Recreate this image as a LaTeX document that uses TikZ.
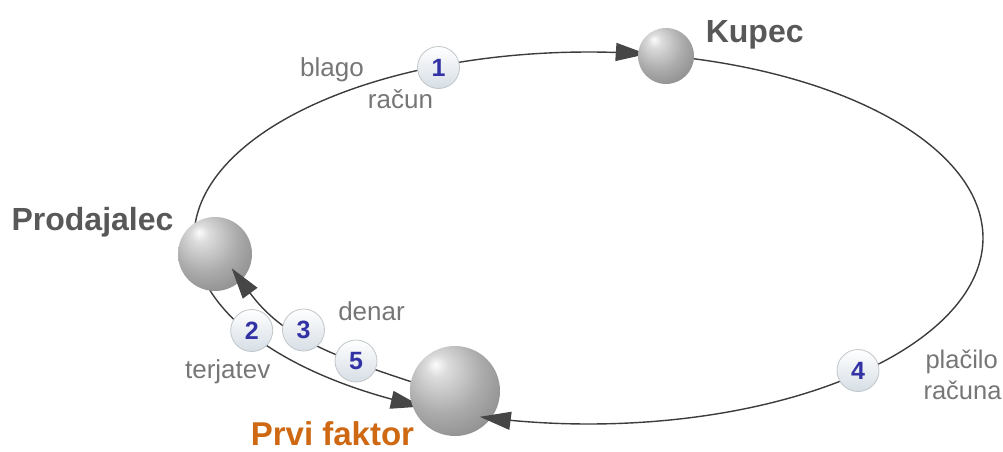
\documentclass[tikz,border=0pt]{standalone}
\usepackage{fontspec}
\setmainfont{Liberation Sans}
\usetikzlibrary{arrows.meta}
\definecolor{linec}{RGB}{60,60,60}
\definecolor{arrc}{RGB}{70,70,70}
\definecolor{labc}{RGB}{118,118,118}
\definecolor{titc}{RGB}{88,88,88}
\definecolor{orc}{RGB}{206,104,18}
\definecolor{digc}{RGB}{50,50,165}
\definecolor{numbd}{RGB}{192,198,202}
\definecolor{numbot}{RGB}{214,222,229}
\definecolor{shA}{RGB}{252,252,252}
\definecolor{shB}{RGB}{220,220,220}
\definecolor{shC}{RGB}{172,172,172}
\definecolor{shD}{RGB}{128,128,128}
\definecolor{shE}{RGB}{84,84,84}
\pgfdeclareradialshading{sphereshade}{\pgfpoint{-11bp}{15bp}}{color(0bp)=(shA); color(6bp)=(shB); color(22bp)=(shC); color(42bp)=(shD); color(66bp)=(shE)}
\begin{document}
\begin{tikzpicture}[x=1pt,y=-1pt,
  sphere/.style={circle, inner sep=0pt, shading=sphereshade},
  numbox/.style={circle, inner sep=0pt, minimum size=42pt, draw=numbd, line width=0.8pt,
    top color=white, bottom color=numbot, text=digc,
    font=\fontsize{25}{25}\selectfont\bfseries},
  flow/.style={draw=linec, line width=1.4pt,
    -{Triangle[length=31pt,width=18pt,color=arrc]}},
  lab/.style={anchor=base, text=labc, font=\fontsize{26}{26}\selectfont},
  title/.style={anchor=base, text=titc, font=\fontsize{32}{32}\selectfont\bfseries}]
\useasboundingbox (0,0) rectangle (1003,452);

% ellipse arcs drawn behind the spheres
\draw[flow] plot[domain=180:278.5, samples=80, smooth] ({588.5+394.5*cos(\x)},{238+186*sin(\x)});
\draw[flow] plot[domain=180:115, samples=60, smooth] ({588.5+394.5*cos(\x)},{238+186*sin(\x)});

% spheres
\node[sphere, minimum size=74pt] (prod) at (215,254) {};
\node[sphere, minimum size=56pt] (kupec) at (666,56) {};
\node[sphere, minimum size=90pt] (faktor) at (455,391) {};

% arcs drawn over the spheres
\draw[flow] plot[domain=-74.5:106, samples=120, smooth] ({588.5+394.5*cos(\x)},{238+186*sin(\x)});
\coordinate (tipP) at (231.7,268.3);
\draw[flow] (faktor.168) .. controls (329.9,355) and (282.2,336.5) .. (tipP);

% numbered markers
\node[numbox] (n1) at (438.5,67.5) {1};
\node[numbox] (n2) at (251.7,330.5) {2};
\node[numbox] (n3) at (303.5,330) {3};
\node[numbox] (n5) at (356,361) {5};
\node[numbox] (n4) at (858,370.5) {4};

% labels
\node[title] (tk) at (754.7,42.7) {Kupec};
\node[title] (tp) at (92.5,230) {Prodajalec};
\node[title, text=orc, font=\fontsize{33}{33}\selectfont\bfseries] (tf) at (332.5,445) {Prvi faktor};
\node[lab] (lb) at (332,77) {blago};
\node[lab] (lr) at (400.5,108.5) {račun};
\node[lab] (lt) at (227.7,378) {terjatev};
\node[lab] (ld) at (371.5,320) {denar};
\node[lab, anchor=base west, font=\fontsize{25.5}{25.5}\selectfont] (lp) at (922,368) {plačilo};
\node[lab, anchor=base west, font=\fontsize{25.5}{25.5}\selectfont] (lrr) at (920,399) {računa};
\end{tikzpicture}
\end{document}
